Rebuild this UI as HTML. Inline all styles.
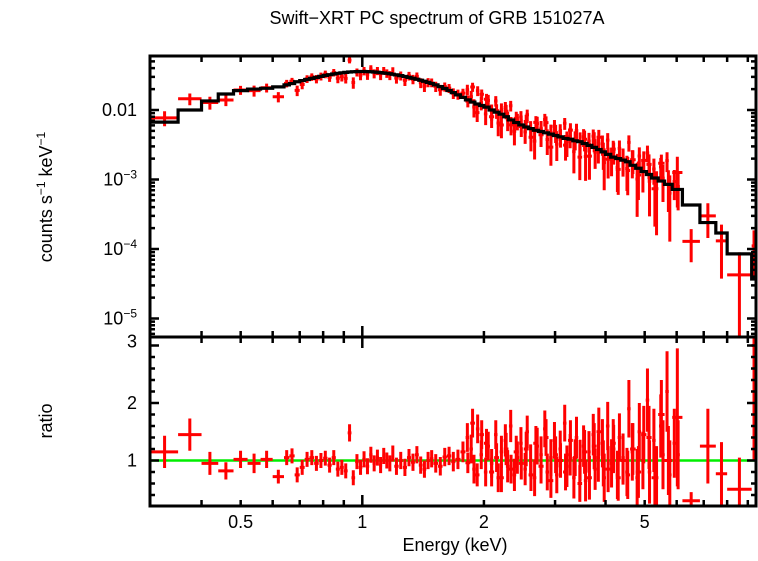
<!DOCTYPE html>
<html><head><meta charset="utf-8"><style>
html,body{margin:0;padding:0;background:#fff}
svg text{font-family:"Liberation Sans",sans-serif;fill:#000}
</style></head><body>
<svg id="chart" width="758" height="556" viewBox="0 0 758 556" xmlns="http://www.w3.org/2000/svg">
<text x="437" y="24" font-size="18" text-anchor="middle">Swift−XRT PC spectrum of GRB 151027A</text>
<text transform="translate(52,197) rotate(-90)" font-size="18" text-anchor="middle">counts s<tspan font-size="12" dy="-7">−1</tspan><tspan dy="7"> keV</tspan><tspan font-size="12" dy="-7">−1</tspan></text>
<text transform="translate(52,421) rotate(-90)" font-size="18" text-anchor="middle">ratio</text>
<text x="455" y="551" font-size="18" text-anchor="middle">Energy (keV)</text>
<g id="grp"></g>
</svg>
<script>
const edges=[0.30,0.35,0.40,0.44,0.48,0.52,0.56,0.60,0.64,0.66,
0.68,0.70,0.72,0.74,0.76,0.78,0.80,0.82,0.84,0.86,
0.88,0.90,0.92,0.94,0.96,0.98,1.00,1.02,1.04,1.06,
1.08,1.10,1.12,1.14,1.16,1.18,1.20,1.23,1.26,1.29,
1.32,1.35,1.38,1.41,1.44,1.47,1.50,1.54,1.58,1.62,
1.66,1.70,1.75,1.80,1.85,1.90,1.95,2.00,2.06,2.12,
2.18,2.24,2.30,2.37,2.44,2.51,2.58,2.65,2.73,2.81,
2.89,2.97,3.05,3.14,3.23,3.32,3.41,3.50,3.60,3.70,
3.80,3.90,4.00,4.12,4.24,4.36,4.48,4.60,4.75,4.90,
5.05,5.20,5.40,5.60,5.85,6.2,6.85,7.5,8.0,9.2,9.45];
const model=[.0067,.0100,.0135,.0170,.0190,.0200,.0205,.0215,.0230,.0240,
.0255,.0265,.0275,.0285,.0295,.0305,.0315,.0322,.0330,.0337,
.0343,.0348,.0352,.0355,.0357,.0358,.0358,.0357,.0355,.0352,
.0349,.0345,.0341,.0337,.0332,.0327,.0320,.0312,.0304,.0295,
.0286,.0277,.0268,.0259,.0250,.0241,.0230,.0217,.0204,.0191,
.0178,.0165,.0152,.0140,.0130,.0122,.0116,.0110,.0100,.0093,
.0087,.0080,.0072,.0066,.0061,.0057,.0054,.0051,.0049,.0047,
.0045,.0043,.0041,.0039,.0038,.0036,.0035,.0033,.0031,.0029,
.0027,.0025,.0023,.0021,.0020,.0019,.0018,.0016,.00145,.0013,
.00118,.00105,.00095,.00085,.00072,.00043,.00024,.00017,.000085,.000037];
const ratio=[1.15,1.45,0.95,0.82,1.02,0.95,1.02,0.72,
1.05,1.08,0.75,0.88,1.02,1.05,0.95,1.00,1.04,0.92,1.05,0.85,0.88,0.82,1.48,0.70,0.98,0.88,
1.02,0.90,1.10,0.95,1.05,0.92,1.08,1.00,0.95,1.12,0.90,1.00,0.88,1.05,0.97,1.10,0.92,0.85,1.00,1.03,0.95,0.90,1.06,1.08,0.98,1.02,1.15,0.96,1.65,0.75,1.45,
1.30,0.80,1.05,0.70,1.20,0.85,1.15,0.95,1.20,0.75,
1.30,0.90,1.40,0.65,1.10,1.00,0.80,1.35,1.05,0.60,
1.15,0.70,1.25,1.50,0.95,0.85,1.30,0.70,1.00,0.75,1.20,0.80,1.45,
1.40,0.70,1.80,1.00,1.75,0.30,1.25,0.77,0.50,3.00];
const ratioErr=[0.28,0.28,0.20,0.15,0.15,0.17,0.15,0.12,
0.13,0.13,0.13,0.13,0.13,0.13,0.13,0.13,0.13,0.13,0.13,0.13,0.13,0.13,0.15,0.13,0.13,0.13,
0.14,0.14,0.14,0.14,0.14,0.14,0.14,0.14,0.14,0.14,0.15,0.15,0.15,0.15,0.15,0.15,0.15,0.15,0.15,0.15,0.16,0.16,0.16,0.16,0.17,0.17,0.18,0.18,0.25,0.2,0.25,
0.25,0.25,0.25,0.25,0.28,0.25,0.28,0.28,0.3,0.28,
0.3,0.3,0.32,0.3,0.32,0.3,0.32,0.35,0.32,0.32,
0.38,0.38,0.4,0.42,0.4,0.4,0.42,0.4,0.42,0.42,0.45,0.45,0.5,
0.55,0.5,0.6,0.6,1.2,0.15,0.65,0.55,0.55,2.0];
// extra fine-binned points
const extraE=[1.82,1.86,1.89,1.93,1.97,2.02,2.05,2.09,2.14,2.17,
2.21,2.26,2.29,2.33,2.38,2.42,2.47,2.53,2.56,2.61,
2.67,2.71,2.77,2.83,2.87,2.93,2.99,3.03,3.09,3.17,
3.21,3.27,3.34,3.39,3.46,3.53,3.57,3.64,3.73,3.77,
3.84,3.93,3.97,4.05,4.14,4.19,4.28,4.33,4.42,4.52,
4.57,4.66,4.79,4.85,4.95,5.08,5.14,5.27,5.35,5.48,
5.55,5.68,5.77,5.92,6.05];
const extraRatio=[1.40,1.20,0.85,1.55,1.10,0.80,1.25,0.95,1.45,0.70,
1.15,1.35,0.90,1.60,0.75,1.05,1.30,0.85,1.50,1.00,
0.70,1.25,1.10,1.55,0.80,1.05,1.35,0.75,1.20,1.65,
0.90,1.10,0.70,1.40,1.00,1.25,0.65,1.15,1.45,0.85,
1.05,1.30,0.70,1.60,0.95,1.20,0.75,1.40,1.05,0.80,
1.90,1.15,0.70,1.50,1.00,2.05,0.80,1.35,0.70,1.60,
1.10,2.20,0.75,1.30,1.10];
const extraErr=[0.25,0.25,0.25,0.25,0.25,0.25,0.25,0.25,0.25,0.25,
0.28,0.28,0.28,0.28,0.28,0.28,0.28,0.28,0.28,0.28,
0.32,0.32,0.32,0.32,0.32,0.32,0.32,0.32,0.32,0.32,
0.36,0.36,0.36,0.36,0.36,0.36,0.36,0.36,0.36,0.36,
0.42,0.42,0.42,0.42,0.42,0.42,0.42,0.42,0.42,0.42,
0.5,0.5,0.5,0.5,0.5,0.55,0.55,0.55,0.55,0.55,
0.6,0.7,0.6,0.6,0.6];
const xTicksMajor=[1];
const xTicksMinor=[0.4,0.5,0.6,0.7,0.8,0.9,2,3,4,5,6,7,8,9];
const xTickLabels=[["0.5",0.5],["1",1],["2",2],["5",5]];
const yTopLabels=[["0.01",-2,""],["10","-3","sup"],["10","-4","sup"],["10","-5","sup"]];
const ratioLabels=[1,2,3];

const L=150,R=756,T=56,M=337,B=506;
const xs=e=>362.3+404*Math.log10(e);
const yTop=v=>110-69.5*(Math.log10(v)+2);
const yBot=r=>460.5-57.5*(r-1);
const NS="http://www.w3.org/2000/svg";
const g=document.getElementById('grp');
function mk(tag,attrs,parent){const el=document.createElementNS(NS,tag);for(const k in attrs)el.setAttribute(k,attrs[k]);(parent||g).appendChild(el);return el;}
function modelAt(e){for(let i=0;i<model.length;i++){if(e>=edges[i]&&e<edges[i+1])return model[i];}return model[model.length-1];}

const defs=mk('defs',{});
const c1=mk('clipPath',{id:'ct'},defs);mk('rect',{x:L,y:T,width:R-L,height:M-T},c1);
const c2=mk('clipPath',{id:'cb'},defs);mk('rect',{x:L,y:M,width:R-L,height:B-M},c2);

const gl=mk('line',{x1:L,x2:R,y1:yBot(1),y2:yBot(1),stroke:'#00ee00','stroke-width':2.5});



const topG=mk('g',{'clip-path':'url(#ct)'});


const botG=mk('g',{'clip-path':'url(#cb)'});


function drawPoint(eLo,eHi,mdl,r,re){
  const x0=xs(eLo),x1=xs(eHi),xc=xs(Math.sqrt(eLo*eHi));
  const rate=mdl*r,err=mdl*re;
  const yc=yTop(rate),yh=yTop(rate+err),yl=rate-err>0?yTop(rate-err):M+5;
  const p=mk('path',{d:`M${x0},${yc}H${x1}M${xc},${yh}V${yl}`,stroke:'#ff0000','stroke-width':3,fill:'none'},topG);
  
  
  const rc=yBot(r),rh=yBot(r+re),rl=yBot(r-re);
  const q=mk('path',{d:`M${x0},${rc}H${x1}M${xc},${rh}V${rl}`,stroke:'#ff0000','stroke-width':3,fill:'none'},botG);
  
  
}
for(let i=0;i<model.length;i++) drawPoint(edges[i],edges[i+1],model[i],ratio[i],ratioErr[i]);
for(let i=0;i<extraE.length;i++) drawPoint(extraE[i]*0.99,extraE[i]*1.01,modelAt(extraE[i]),extraRatio[i],extraErr[i]);

let d='';
for(let i=0;i<model.length;i++){
  const x1=xs(edges[i+1]),y=yTop(model[i]);
  d+=(i===0?`M${L},${y}`:`V${y}`)+`H${x1}`;
}
const ml=mk('path',{d:d,stroke:'#000','stroke-width':3.2,fill:'none'},topG);



const fr=mk('path',{d:`M${L},${T}H${R}V${B}H${L}Z M${L},${M}H${R}`,stroke:'#000','stroke-width':3,fill:'none'});



let td='';
function xt(e,len){const x=xs(e);if(x<L||x>R)return;
 td+=`M${x},${T}v${len}M${x},${M}v${-len}M${x},${M}v${len}M${x},${B}v${-len}`;}
xTicksMajor.forEach(e=>xt(e,11));
xTicksMinor.forEach(e=>xt(e,6));
for(let dec=-6;dec<=-1;dec++){for(let k=1;k<=9;k++){const v=k*Math.pow(10,dec);const y=yTop(v);if(y<T+1||y>M-1)continue;const len=k===1?9:5;td+=`M${L},${y}h${len}M${R},${y}h${-len}`;}}
for(let r=0.2;r<=3.21;r+=0.2){const y=yBot(r);if(y<M+1||y>B-1)continue;const maj=Math.abs(r-Math.round(r))<0.01;const len=maj?9:5;td+=`M${L},${y}h${len}M${R},${y}h${-len}`;}
const tk=mk('path',{d:td,stroke:'#000','stroke-width':2.5,fill:'none'});



xTickLabels.forEach(([s,e])=>{const t=mk('text',{x:xs(e),y:528,'font-size':18,'text-anchor':'middle'});t.textContent=s;
 
 });
yTopLabels.forEach(([b,ex,kind])=>{
 const y=kind?yTop(Math.pow(10,+ex)):yTop(0.01);
 const t=mk('text',{x:137,y:y+6,'font-size':18,'text-anchor':'end'});
 
 
 if(kind){t.textContent=b;const s=mk('tspan',{'font-size':12,dy:-7},t);s.textContent='−'+ex.replace('-','');}
 else t.textContent=b;});
ratioLabels.forEach(r=>{const y=r===3?yBot(3)-4:yBot(r);const t=mk('text',{x:137,y:y+6,'font-size':18,'text-anchor':'end'});t.textContent=String(r);
 
 });
</script>
</body></html>
